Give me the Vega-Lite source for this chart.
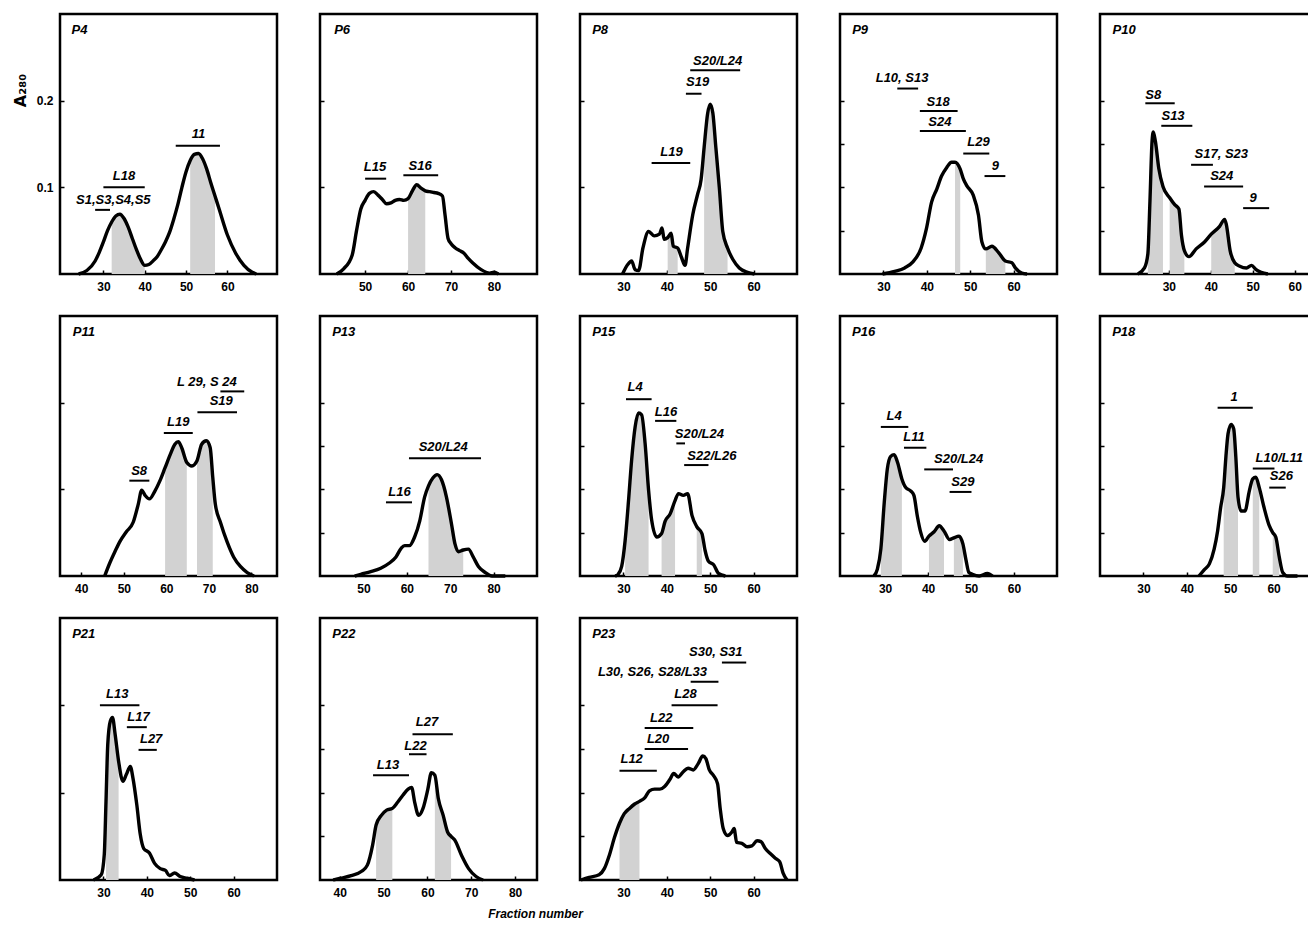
{
"$schema":"https://vega.github.io/schema/vega-lite/v6.json",
"padding":{"left":10,"top":12,"right":0,"bottom":0},
"background":"white",
"datasets":{
"curves":[
{"panel":"P4","x":24,"y":0},{"panel":"P4","x":26,"y":0.004},{"panel":"P4","x":28,"y":0.015},{"panel":"P4","x":29,"y":0.025},{"panel":"P4","x":30,"y":0.037},{"panel":"P4","x":31,"y":0.05},{"panel":"P4","x":32,"y":0.06},{"panel":"P4","x":33,"y":0.067},{"panel":"P4","x":34,"y":0.069},{"panel":"P4","x":35,"y":0.064},{"panel":"P4","x":36,"y":0.054},{"panel":"P4","x":37,"y":0.041},{"panel":"P4","x":38,"y":0.028},{"panel":"P4","x":39,"y":0.017},{"panel":"P4","x":40,"y":0.01},{"panel":"P4","x":41,"y":0.011},{"panel":"P4","x":42,"y":0.015},{"panel":"P4","x":43,"y":0.02},{"panel":"P4","x":44,"y":0.028},{"panel":"P4","x":45,"y":0.037},{"panel":"P4","x":46,"y":0.048},{"panel":"P4","x":47,"y":0.063},{"panel":"P4","x":48,"y":0.08},{"panel":"P4","x":49,"y":0.1},{"panel":"P4","x":50,"y":0.118},{"panel":"P4","x":51,"y":0.131},{"panel":"P4","x":52,"y":0.138},{"panel":"P4","x":53,"y":0.139},{"panel":"P4","x":54,"y":0.133},{"panel":"P4","x":55,"y":0.121},{"panel":"P4","x":56,"y":0.105},{"panel":"P4","x":57,"y":0.09},{"panel":"P4","x":58,"y":0.075},{"panel":"P4","x":60,"y":0.045},{"panel":"P4","x":62,"y":0.024},{"panel":"P4","x":64,"y":0.01},{"panel":"P4","x":66,"y":0.002},{"panel":"P4","x":67,"y":0},
{"panel":"P6","x":43.4,"y":0},{"panel":"P6","x":45,"y":0.006},{"panel":"P6","x":47,"y":0.022},{"panel":"P6","x":48,"y":0.05},{"panel":"P6","x":49,"y":0.075},{"panel":"P6","x":50,"y":0.085},{"panel":"P6","x":51,"y":0.093},{"panel":"P6","x":52,"y":0.095},{"panel":"P6","x":53,"y":0.091},{"panel":"P6","x":54,"y":0.086},{"panel":"P6","x":55,"y":0.081},{"panel":"P6","x":56,"y":0.082},{"panel":"P6","x":57,"y":0.085},{"panel":"P6","x":58,"y":0.086},{"panel":"P6","x":59,"y":0.085},{"panel":"P6","x":60,"y":0.087},{"panel":"P6","x":61,"y":0.096},{"panel":"P6","x":62,"y":0.103},{"panel":"P6","x":63,"y":0.099},{"panel":"P6","x":64,"y":0.096},{"panel":"P6","x":65,"y":0.095},{"panel":"P6","x":66,"y":0.094},{"panel":"P6","x":67,"y":0.093},{"panel":"P6","x":68,"y":0.09},{"panel":"P6","x":68.6,"y":0.068},{"panel":"P6","x":69.3,"y":0.041},{"panel":"P6","x":70,"y":0.035},{"panel":"P6","x":71,"y":0.03},{"panel":"P6","x":72,"y":0.027},{"panel":"P6","x":73,"y":0.024},{"panel":"P6","x":74,"y":0.018},{"panel":"P6","x":75,"y":0.013},{"panel":"P6","x":77,"y":0.005},{"panel":"P6","x":79,"y":0.001},{"panel":"P6","x":80,"y":0.002},{"panel":"P6","x":81,"y":0},
{"panel":"P8","x":29.8,"y":0},{"panel":"P8","x":31,"y":0.011},{"panel":"P8","x":31.9,"y":0.015},{"panel":"P8","x":32.7,"y":0.005},{"panel":"P8","x":33.5,"y":0.004},{"panel":"P8","x":34.5,"y":0.03},{"panel":"P8","x":35.8,"y":0.049},{"panel":"P8","x":37.1,"y":0.044},{"panel":"P8","x":38.3,"y":0.046},{"panel":"P8","x":38.9,"y":0.053},{"panel":"P8","x":39.4,"y":0.04},{"panel":"P8","x":40.2,"y":0.042},{"panel":"P8","x":41,"y":0.047},{"panel":"P8","x":41.5,"y":0.032},{"panel":"P8","x":42.5,"y":0.03},{"panel":"P8","x":43.4,"y":0.019},{"panel":"P8","x":44.2,"y":0.01},{"panel":"P8","x":44.8,"y":0.03},{"panel":"P8","x":46,"y":0.069},{"panel":"P8","x":47.1,"y":0.092},{"panel":"P8","x":47.9,"y":0.109},{"panel":"P8","x":48.6,"y":0.146},{"panel":"P8","x":49.4,"y":0.185},{"panel":"P8","x":50,"y":0.196},{"panel":"P8","x":50.6,"y":0.186},{"panel":"P8","x":51.3,"y":0.146},{"panel":"P8","x":52.1,"y":0.1},{"panel":"P8","x":52.9,"y":0.049},{"panel":"P8","x":54,"y":0.03},{"panel":"P8","x":55.2,"y":0.017},{"panel":"P8","x":56.7,"y":0.007},{"panel":"P8","x":58.6,"y":0.002},{"panel":"P8","x":60.2,"y":0},
{"panel":"P9","x":29.8,"y":0},{"panel":"P9","x":32.6,"y":0.003},{"panel":"P9","x":34.9,"y":0.007},{"panel":"P9","x":36.8,"y":0.014},{"panel":"P9","x":38.7,"y":0.03},{"panel":"P9","x":39.9,"y":0.052},{"panel":"P9","x":41.1,"y":0.083},{"panel":"P9","x":42.3,"y":0.098},{"panel":"P9","x":43.4,"y":0.113},{"panel":"P9","x":44.6,"y":0.123},{"panel":"P9","x":45.7,"y":0.129},{"panel":"P9","x":46.5,"y":0.129},{"panel":"P9","x":47.7,"y":0.121},{"panel":"P9","x":48.4,"y":0.11},{"panel":"P9","x":49.2,"y":0.102},{"panel":"P9","x":50.7,"y":0.091},{"panel":"P9","x":51.9,"y":0.068},{"panel":"P9","x":52.7,"y":0.037},{"panel":"P9","x":53.6,"y":0.029},{"panel":"P9","x":55,"y":0.032},{"panel":"P9","x":56.5,"y":0.025},{"panel":"P9","x":58.1,"y":0.015},{"panel":"P9","x":59.6,"y":0.013},{"panel":"P9","x":60.4,"y":0.007},{"panel":"P9","x":61.9,"y":0.001},{"panel":"P9","x":63.1,"y":0},
{"panel":"P10","x":22.6,"y":0},{"panel":"P10","x":24.2,"y":0.007},{"panel":"P10","x":25,"y":0.023},{"panel":"P10","x":25.5,"y":0.084},{"panel":"P10","x":26,"y":0.153},{"panel":"P10","x":26.3,"y":0.164},{"panel":"P10","x":26.8,"y":0.153},{"panel":"P10","x":27.6,"y":0.122},{"panel":"P10","x":28.6,"y":0.101},{"panel":"P10","x":30.2,"y":0.088},{"panel":"P10","x":31.4,"y":0.08},{"panel":"P10","x":32.4,"y":0.075},{"panel":"P10","x":33,"y":0.045},{"panel":"P10","x":33.7,"y":0.027},{"panel":"P10","x":34.8,"y":0.02},{"panel":"P10","x":36.5,"y":0.029},{"panel":"P10","x":38.5,"y":0.037},{"panel":"P10","x":40.1,"y":0.046},{"panel":"P10","x":42.1,"y":0.055},{"panel":"P10","x":43.3,"y":0.063},{"panel":"P10","x":43.7,"y":0.057},{"panel":"P10","x":44.6,"y":0.027},{"panel":"P10","x":45.7,"y":0.013},{"panel":"P10","x":46.9,"y":0.009},{"panel":"P10","x":48.5,"y":0.007},{"panel":"P10","x":49.7,"y":0.01},{"panel":"P10","x":50.8,"y":0.005},{"panel":"P10","x":52,"y":0.002},{"panel":"P10","x":53.6,"y":0},
{"panel":"P11","x":45.5,"y":0},{"panel":"P11","x":46.7,"y":0.015},{"panel":"P11","x":47.9,"y":0.028},{"panel":"P11","x":49.1,"y":0.04},{"panel":"P11","x":50.6,"y":0.051},{"panel":"P11","x":52.2,"y":0.062},{"panel":"P11","x":53.4,"y":0.083},{"panel":"P11","x":54.2,"y":0.099},{"panel":"P11","x":55,"y":0.093},{"panel":"P11","x":56,"y":0.089},{"panel":"P11","x":57.3,"y":0.098},{"panel":"P11","x":58.5,"y":0.11},{"panel":"P11","x":59.7,"y":0.125},{"panel":"P11","x":60.9,"y":0.14},{"panel":"P11","x":62,"y":0.152},{"panel":"P11","x":62.8,"y":0.155},{"panel":"P11","x":63.6,"y":0.148},{"panel":"P11","x":64.8,"y":0.131},{"panel":"P11","x":66,"y":0.127},{"panel":"P11","x":67.2,"y":0.133},{"panel":"P11","x":68.3,"y":0.152},{"panel":"P11","x":69.4,"y":0.156},{"panel":"P11","x":70.3,"y":0.148},{"panel":"P11","x":70.9,"y":0.114},{"panel":"P11","x":71.5,"y":0.083},{"panel":"P11","x":72.7,"y":0.062},{"panel":"P11","x":74.3,"y":0.039},{"panel":"P11","x":75.8,"y":0.022},{"panel":"P11","x":77.4,"y":0.011},{"panel":"P11","x":79,"y":0.004},{"panel":"P11","x":80.6,"y":0},
{"panel":"P13","x":48,"y":0},{"panel":"P13","x":49.4,"y":0.002},{"panel":"P13","x":51.7,"y":0.005},{"panel":"P13","x":54,"y":0.009},{"panel":"P13","x":56,"y":0.015},{"panel":"P13","x":57.5,"y":0.022},{"panel":"P13","x":58.7,"y":0.032},{"panel":"P13","x":59.5,"y":0.035},{"panel":"P13","x":60.6,"y":0.035},{"panel":"P13","x":61.8,"y":0.045},{"panel":"P13","x":63,"y":0.064},{"panel":"P13","x":64.1,"y":0.091},{"panel":"P13","x":65,"y":0.104},{"panel":"P13","x":66,"y":0.113},{"panel":"P13","x":67,"y":0.117},{"panel":"P13","x":68,"y":0.111},{"panel":"P13","x":69.1,"y":0.092},{"panel":"P13","x":70.3,"y":0.06},{"panel":"P13","x":71.1,"y":0.037},{"panel":"P13","x":71.9,"y":0.028},{"panel":"P13","x":73,"y":0.03},{"panel":"P13","x":74.2,"y":0.031},{"panel":"P13","x":75.3,"y":0.022},{"panel":"P13","x":76.5,"y":0.011},{"panel":"P13","x":78.1,"y":0.004},{"panel":"P13","x":79.6,"y":0},{"panel":"P13","x":82.7,"y":0},
{"panel":"P15","x":28.1,"y":0},{"panel":"P15","x":28.8,"y":0.002},{"panel":"P15","x":29.6,"y":0.011},{"panel":"P15","x":30.4,"y":0.041},{"panel":"P15","x":31.2,"y":0.088},{"panel":"P15","x":31.9,"y":0.134},{"panel":"P15","x":32.7,"y":0.172},{"panel":"P15","x":33.5,"y":0.188},{"panel":"P15","x":34.2,"y":0.186},{"panel":"P15","x":35,"y":0.153},{"panel":"P15","x":35.8,"y":0.099},{"panel":"P15","x":36.5,"y":0.065},{"panel":"P15","x":37.7,"y":0.045},{"panel":"P15","x":38.8,"y":0.049},{"panel":"P15","x":39.6,"y":0.063},{"panel":"P15","x":40.8,"y":0.072},{"panel":"P15","x":41.9,"y":0.087},{"panel":"P15","x":42.7,"y":0.095},{"panel":"P15","x":43.8,"y":0.093},{"panel":"P15","x":44.8,"y":0.095},{"panel":"P15","x":45.8,"y":0.07},{"panel":"P15","x":46.9,"y":0.057},{"panel":"P15","x":48.1,"y":0.049},{"panel":"P15","x":48.8,"y":0.03},{"panel":"P15","x":49.6,"y":0.017},{"panel":"P15","x":50.8,"y":0.013},{"panel":"P15","x":51.9,"y":0.003},{"panel":"P15","x":53.5,"y":0},
{"panel":"P16","x":27.4,"y":0},{"panel":"P16","x":28.2,"y":0.008},{"panel":"P16","x":29,"y":0.031},{"panel":"P16","x":29.8,"y":0.085},{"panel":"P16","x":30.5,"y":0.123},{"panel":"P16","x":31.3,"y":0.138},{"panel":"P16","x":32.1,"y":0.14},{"panel":"P16","x":32.9,"y":0.131},{"panel":"P16","x":33.9,"y":0.112},{"panel":"P16","x":34.8,"y":0.102},{"panel":"P16","x":36,"y":0.098},{"panel":"P16","x":36.7,"y":0.093},{"panel":"P16","x":37.5,"y":0.069},{"panel":"P16","x":38.3,"y":0.05},{"panel":"P16","x":39.2,"y":0.04},{"panel":"P16","x":40.2,"y":0.046},{"panel":"P16","x":41.4,"y":0.051},{"panel":"P16","x":42.6,"y":0.058},{"panel":"P16","x":43.7,"y":0.052},{"panel":"P16","x":45,"y":0.042},{"panel":"P16","x":46,"y":0.044},{"panel":"P16","x":47.2,"y":0.046},{"panel":"P16","x":48.1,"y":0.037},{"panel":"P16","x":48.8,"y":0.019},{"panel":"P16","x":49.5,"y":0.004},{"panel":"P16","x":50.3,"y":0.002},{"panel":"P16","x":51.9,"y":0},{"panel":"P16","x":53.8,"y":0.003},{"panel":"P16","x":55,"y":0},
{"panel":"P18","x":42.8,"y":0},{"panel":"P18","x":44,"y":0.007},{"panel":"P18","x":45.2,"y":0.014},{"panel":"P18","x":46.3,"y":0.031},{"panel":"P18","x":47.1,"y":0.052},{"panel":"P18","x":47.8,"y":0.079},{"panel":"P18","x":48.5,"y":0.102},{"panel":"P18","x":49,"y":0.137},{"panel":"P18","x":49.5,"y":0.164},{"panel":"P18","x":50.2,"y":0.175},{"panel":"P18","x":50.8,"y":0.17},{"panel":"P18","x":51.3,"y":0.137},{"panel":"P18","x":51.8,"y":0.091},{"panel":"P18","x":52.5,"y":0.075},{"panel":"P18","x":53.4,"y":0.075},{"panel":"P18","x":54.4,"y":0.098},{"panel":"P18","x":55.2,"y":0.112},{"panel":"P18","x":55.9,"y":0.114},{"panel":"P18","x":56.7,"y":0.102},{"panel":"P18","x":57.8,"y":0.079},{"panel":"P18","x":59,"y":0.058},{"panel":"P18","x":59.8,"y":0.05},{"panel":"P18","x":60.5,"y":0.045},{"panel":"P18","x":61.3,"y":0.022},{"panel":"P18","x":62.1,"y":0.004},{"panel":"P18","x":63.2,"y":0},{"panel":"P18","x":65.5,"y":0},
{"panel":"P21","x":27.7,"y":0},{"panel":"P21","x":29.5,"y":0.006},{"panel":"P21","x":30.2,"y":0.029},{"panel":"P21","x":30.6,"y":0.09},{"panel":"P21","x":31,"y":0.155},{"panel":"P21","x":31.6,"y":0.182},{"panel":"P21","x":32.1,"y":0.186},{"panel":"P21","x":32.7,"y":0.167},{"panel":"P21","x":33.5,"y":0.136},{"panel":"P21","x":34.5,"y":0.113},{"panel":"P21","x":35.3,"y":0.121},{"panel":"P21","x":36.2,"y":0.13},{"panel":"P21","x":36.8,"y":0.117},{"panel":"P21","x":37.7,"y":0.086},{"panel":"P21","x":38.5,"y":0.052},{"panel":"P21","x":39.3,"y":0.036},{"panel":"P21","x":40.6,"y":0.031},{"panel":"P21","x":41.8,"y":0.019},{"panel":"P21","x":43.1,"y":0.013},{"panel":"P21","x":44.3,"y":0.011},{"panel":"P21","x":45.2,"y":0.005},{"panel":"P21","x":46.4,"y":0.008},{"panel":"P21","x":47.7,"y":0.004},{"panel":"P21","x":49.3,"y":0.002},{"panel":"P21","x":51,"y":0},
{"panel":"P22","x":38.5,"y":0},{"panel":"P22","x":40.2,"y":0.002},{"panel":"P22","x":42.6,"y":0.005},{"panel":"P22","x":45,"y":0.01},{"panel":"P22","x":46.3,"y":0.017},{"panel":"P22","x":47.5,"y":0.04},{"panel":"P22","x":48.3,"y":0.063},{"panel":"P22","x":49.5,"y":0.074},{"panel":"P22","x":50.7,"y":0.08},{"panel":"P22","x":52,"y":0.082},{"panel":"P22","x":53.2,"y":0.089},{"panel":"P22","x":54.4,"y":0.097},{"panel":"P22","x":55.6,"y":0.104},{"panel":"P22","x":56.4,"y":0.106},{"panel":"P22","x":57.1,"y":0.089},{"panel":"P22","x":58,"y":0.074},{"panel":"P22","x":59,"y":0.082},{"panel":"P22","x":60.1,"y":0.104},{"panel":"P22","x":60.9,"y":0.123},{"panel":"P22","x":61.7,"y":0.12},{"panel":"P22","x":62.5,"y":0.093},{"panel":"P22","x":63.6,"y":0.074},{"panel":"P22","x":64.6,"y":0.055},{"panel":"P22","x":65.4,"y":0.05},{"panel":"P22","x":66.2,"y":0.046},{"panel":"P22","x":67.8,"y":0.028},{"panel":"P22","x":69.4,"y":0.013},{"panel":"P22","x":71.1,"y":0.004},{"panel":"P22","x":72.7,"y":0},
{"panel":"P23","x":20.2,"y":0},{"panel":"P23","x":22.1,"y":0.003},{"panel":"P23","x":24.4,"y":0.006},{"panel":"P23","x":25.6,"y":0.013},{"panel":"P23","x":26.8,"y":0.029},{"panel":"P23","x":27.9,"y":0.048},{"panel":"P23","x":29.1,"y":0.065},{"panel":"P23","x":30.2,"y":0.076},{"panel":"P23","x":31.4,"y":0.082},{"panel":"P23","x":32.6,"y":0.087},{"panel":"P23","x":33.7,"y":0.09},{"panel":"P23","x":34.9,"y":0.094},{"panel":"P23","x":36,"y":0.102},{"panel":"P23","x":37.2,"y":0.104},{"panel":"P23","x":38.4,"y":0.104},{"panel":"P23","x":39.5,"y":0.107},{"panel":"P23","x":40.7,"y":0.115},{"panel":"P23","x":41.6,"y":0.122},{"panel":"P23","x":42.6,"y":0.118},{"panel":"P23","x":43.8,"y":0.124},{"panel":"P23","x":44.9,"y":0.128},{"panel":"P23","x":46.1,"y":0.126},{"panel":"P23","x":47.2,"y":0.133},{"panel":"P23","x":48.3,"y":0.142},{"panel":"P23","x":49,"y":0.139},{"panel":"P23","x":49.8,"y":0.126},{"panel":"P23","x":50.7,"y":0.12},{"panel":"P23","x":51.7,"y":0.11},{"panel":"P23","x":52.3,"y":0.082},{"panel":"P23","x":53,"y":0.059},{"panel":"P23","x":54,"y":0.051},{"panel":"P23","x":55,"y":0.055},{"panel":"P23","x":55.5,"y":0.059},{"panel":"P23","x":56.1,"y":0.043},{"panel":"P23","x":57.3,"y":0.042},{"panel":"P23","x":58.5,"y":0.038},{"panel":"P23","x":59.6,"y":0.039},{"panel":"P23","x":60.8,"y":0.045},{"panel":"P23","x":61.7,"y":0.044},{"panel":"P23","x":62.7,"y":0.036},{"panel":"P23","x":63.9,"y":0.03},{"panel":"P23","x":65,"y":0.025},{"panel":"P23","x":66,"y":0.021},{"panel":"P23","x":66.8,"y":0.008},{"panel":"P23","x":67.7,"y":0}
],
"bars":[
{"panel":"P4","x":47.5,"x2":58.2,"y":0.148},{"panel":"P4","x":30,"x2":40,"y":0.1},{"panel":"P4","x":28,"x2":31.6,"y":0.074},
{"panel":"P6","x":50,"x2":54.9,"y":0.11},{"panel":"P6","x":58.9,"x2":67,"y":0.114},
{"panel":"P8","x":45.4,"x2":56.9,"y":0.235},{"panel":"P8","x":44.4,"x2":48,"y":0.208},{"panel":"P8","x":36.5,"x2":45.4,"y":0.128},
{"panel":"P9","x":33.2,"x2":38,"y":0.214},{"panel":"P9","x":38.4,"x2":47.1,"y":0.188},{"panel":"P9","x":38.4,"x2":49,"y":0.165},{"panel":"P9","x":48.4,"x2":54.4,"y":0.139},{"panel":"P9","x":53.3,"x2":58.1,"y":0.113},
{"panel":"P10","x":24.4,"x2":31.4,"y":0.197},{"panel":"P10","x":28.2,"x2":35.6,"y":0.171},{"panel":"P10","x":35.3,"x2":40.5,"y":0.126},{"panel":"P10","x":38.4,"x2":47.7,"y":0.101},{"panel":"P10","x":47.7,"x2":53.9,"y":0.076},
{"panel":"P11","x":51.3,"x2":56,"y":0.11},{"panel":"P11","x":59.4,"x2":66.2,"y":0.165},{"panel":"P11","x":67.3,"x2":76.6,"y":0.189},{"panel":"P11","x":72.7,"x2":78.3,"y":0.213},
{"panel":"P13","x":60.5,"x2":77.1,"y":0.136},{"panel":"P13","x":55.2,"x2":61.2,"y":0.085},
{"panel":"P15","x":30.6,"x2":36.5,"y":0.204},{"panel":"P15","x":37.3,"x2":42.2,"y":0.179},{"panel":"P15","x":42.2,"x2":44.2,"y":0.153},{"panel":"P15","x":44,"x2":49.6,"y":0.128},
{"panel":"P16","x":29,"x2":35.4,"y":0.172},{"panel":"P16","x":34.4,"x2":39.6,"y":0.148},{"panel":"P16","x":39.1,"x2":45.8,"y":0.123},{"panel":"P16","x":45,"x2":50.1,"y":0.097},
{"panel":"P18","x":47.1,"x2":55.2,"y":0.194},{"panel":"P18","x":55.2,"x2":60.2,"y":0.124},{"panel":"P18","x":59,"x2":62.8,"y":0.102},
{"panel":"P21","x":29.2,"x2":38.3,"y":0.2},{"panel":"P21","x":35.4,"x2":40,"y":0.175},{"panel":"P21","x":38.1,"x2":42.3,"y":0.149},
{"panel":"P22","x":47.6,"x2":55.8,"y":0.12},{"panel":"P22","x":55.8,"x2":59.8,"y":0.144},{"panel":"P22","x":56.6,"x2":65.8,"y":0.167},
{"panel":"P23","x":29.1,"x2":37.7,"y":0.125},{"panel":"P23","x":34.9,"x2":44.9,"y":0.15},{"panel":"P23","x":34.9,"x2":46.1,"y":0.174},{"panel":"P23","x":41.1,"x2":51.7,"y":0.2},{"panel":"P23","x":45.5,"x2":51.9,"y":0.227},{"panel":"P23","x":52.7,"x2":58.3,"y":0.249}
],
"labels":[
{"panel":"P4","text":"11","x":53,"y":0.161},{"panel":"P4","text":"L18","x":35,"y":0.113},{"panel":"P4","text":"S1,S3,S4,S5","x":32.4,"y":0.085},
{"panel":"P6","text":"L15","x":52.3,"y":0.123},{"panel":"P6","text":"S16","x":62.8,"y":0.125},
{"panel":"P8","text":"S20/L24","x":51.7,"y":0.246},{"panel":"P8","text":"S19","x":47.1,"y":0.222},{"panel":"P8","text":"L19","x":41.1,"y":0.141},
{"panel":"P9","text":"L10, S13","x":34.3,"y":0.226},{"panel":"P9","text":"S18","x":42.6,"y":0.199},{"panel":"P9","text":"S24","x":43,"y":0.175},{"panel":"P9","text":"L29","x":51.9,"y":0.152},{"panel":"P9","text":"9","x":55.8,"y":0.125},
{"panel":"P10","text":"S8","x":26.3,"y":0.206},{"panel":"P10","text":"S13","x":31,"y":0.182},{"panel":"P10","text":"S17, S23","x":42.5,"y":0.138},{"panel":"P10","text":"S24","x":42.6,"y":0.113},{"panel":"P10","text":"9","x":50.1,"y":0.088},
{"panel":"P11","text":"S8","x":53.6,"y":0.121},{"panel":"P11","text":"L19","x":62.8,"y":0.178},{"panel":"P11","text":"S19","x":72.9,"y":0.202},{"panel":"P11","text":"L 29, S 24","x":69.5,"y":0.224},
{"panel":"P13","text":"S20/L24","x":68.4,"y":0.149},{"panel":"P13","text":"L16","x":58.3,"y":0.097},
{"panel":"P15","text":"L4","x":32.7,"y":0.218},{"panel":"P15","text":"L16","x":39.8,"y":0.189},{"panel":"P15","text":"S20/L24","x":47.5,"y":0.164},{"panel":"P15","text":"S22/L26","x":50.4,"y":0.139},
{"panel":"P16","text":"L4","x":32.1,"y":0.185},{"panel":"P16","text":"L11","x":36.7,"y":0.16},{"panel":"P16","text":"S20/L24","x":47.1,"y":0.135},{"panel":"P16","text":"S29","x":48.1,"y":0.109},
{"panel":"P18","text":"1","x":50.9,"y":0.206},{"panel":"P18","text":"L10/L11","x":61.3,"y":0.136},{"panel":"P18","text":"S26","x":61.8,"y":0.115},
{"panel":"P21","text":"L13","x":33.2,"y":0.213},{"panel":"P21","text":"L17","x":38.1,"y":0.187},{"panel":"P21","text":"L27","x":41,"y":0.162},
{"panel":"P22","text":"L13","x":51,"y":0.132},{"panel":"P22","text":"L22","x":57.3,"y":0.154},{"panel":"P22","text":"L27","x":59.9,"y":0.181},
{"panel":"P23","text":"L12","x":31.9,"y":0.139},{"panel":"P23","text":"L20","x":38,"y":0.162},{"panel":"P23","text":"L22","x":38.7,"y":0.186},{"panel":"P23","text":"L28","x":44.3,"y":0.213},{"panel":"P23","text":"L30, S26, S28/L33","x":36.7,"y":0.238},{"panel":"P23","text":"S30, S31","x":51.3,"y":0.261}
],
"panels":[
{"panel":"P4","x":22.3,"y":0.282},{"panel":"P6","x":42.8,"y":0.282},{"panel":"P8","x":22.8,"y":0.282},{"panel":"P9","x":22.8,"y":0.282},{"panel":"P10","x":16.6,"y":0.282},
{"panel":"P11","x":38,"y":0.282},{"panel":"P13","x":42.8,"y":0.282},{"panel":"P15","x":22.8,"y":0.282},{"panel":"P16","x":22.3,"y":0.282},{"panel":"P18","x":22.8,"y":0.282},
{"panel":"P21","x":22.8,"y":0.282},{"panel":"P22","x":38.3,"y":0.282},{"panel":"P23","x":22.8,"y":0.282}
]
},
"columns":5,
"spacing":{"row":40,"column":43},
"bounds":"flush",
"align":"all",
"concat":[
{"width":217,"height":260,
 "encoding":{"x":{"field":"x","type":"quantitative","scale":{"domain":[19.5,72],"nice":false,"zero":false},"axis":{"values":[30,40,50,60],"title":null}},
  "y":{"field":"y","type":"quantitative","scale":{"domain":[0,0.3],"nice":false},"axis":{"values":[0.1,0.2],"format":".1f","labels":true,"title":"A₂₈₀","titleFont":"DejaVu Sans","titleFontSize":16,"titleFontWeight":"bold","titleAngle":-90,"titleX":-32,"titleY":76,"titleAlign":"center","titleBaseline":"bottom"}}},
 "layer":[
  {"data":{"name":"curves"},"transform":[{"filter":"datum.panel=='P4'&&datum.x>=32&&datum.x<=40"}],"mark":{"type":"area","fill":"#d2d2d2","interpolate":"monotone"},"encoding":{}},
  {"data":{"name":"curves"},"transform":[{"filter":"datum.panel=='P4'&&datum.x>=51&&datum.x<=57"}],"mark":{"type":"area","fill":"#d2d2d2","interpolate":"monotone"},"encoding":{}},
  {"data":{"name":"curves"},"transform":[{"filter":"datum.panel=='P4'"}],"mark":{"type":"line","color":"black","strokeWidth":3.4,"interpolate":"monotone","strokeJoin":"round"},"encoding":{}},
  {"data":{"name":"bars"},"transform":[{"filter":"datum.panel=='P4'"}],"mark":{"type":"rule","color":"black","strokeWidth":2},"encoding":{"x2":{"field":"x2"}}},
  {"data":{"name":"labels"},"transform":[{"filter":"datum.panel=='P4'"}],"mark":{"type":"text","baseline":"middle"},"encoding":{"text":{"field":"text"}}},
  {"data":{"name":"panels"},"transform":[{"filter":"datum.panel=='P4'"}],"mark":{"type":"text","align":"left","baseline":"middle"},"encoding":{"text":{"field":"panel"}}}
 ]},
{"width":217,"height":260,
 "encoding":{"x":{"field":"x","type":"quantitative","scale":{"domain":[39.5,90],"nice":false,"zero":false},"axis":{"values":[50,60,70,80],"title":null}},
  "y":{"field":"y","type":"quantitative","scale":{"domain":[0,0.3],"nice":false},"axis":{"values":[0.1,0.2],"title":null}}},
 "layer":[
  {"data":{"name":"curves"},"transform":[{"filter":"datum.panel=='P6'&&datum.x>=60&&datum.x<=64"}],"mark":{"type":"area","fill":"#d2d2d2","interpolate":"monotone"},"encoding":{}},
  {"data":{"name":"curves"},"transform":[{"filter":"datum.panel=='P6'"}],"mark":{"type":"line","color":"black","strokeWidth":3.4,"interpolate":"monotone","strokeJoin":"round"},"encoding":{}},
  {"data":{"name":"bars"},"transform":[{"filter":"datum.panel=='P6'"}],"mark":{"type":"rule","color":"black","strokeWidth":2},"encoding":{"x2":{"field":"x2"}}},
  {"data":{"name":"labels"},"transform":[{"filter":"datum.panel=='P6'"}],"mark":{"type":"text","baseline":"middle"},"encoding":{"text":{"field":"text"}}},
  {"data":{"name":"panels"},"transform":[{"filter":"datum.panel=='P6'"}],"mark":{"type":"text","align":"left","baseline":"middle"},"encoding":{"text":{"field":"panel"}}}
 ]},
{"width":217,"height":260,
 "encoding":{"x":{"field":"x","type":"quantitative","scale":{"domain":[20,70],"nice":false,"zero":false},"axis":{"values":[30,40,50,60],"title":null}},
  "y":{"field":"y","type":"quantitative","scale":{"domain":[0,0.3],"nice":false},"axis":{"values":[0.1,0.2],"title":null}}},
 "layer":[
  {"data":{"name":"curves"},"transform":[{"filter":"datum.panel=='P8'&&datum.x>=40.2&&datum.x<=42.5"}],"mark":{"type":"area","fill":"#d2d2d2","interpolate":"monotone"},"encoding":{}},
  {"data":{"name":"curves"},"transform":[{"filter":"datum.panel=='P8'&&datum.x>=48.6&&datum.x<=54"}],"mark":{"type":"area","fill":"#d2d2d2","interpolate":"monotone"},"encoding":{}},
  {"data":{"name":"curves"},"transform":[{"filter":"datum.panel=='P8'"}],"mark":{"type":"line","color":"black","strokeWidth":3.4,"interpolate":"monotone","strokeJoin":"round"},"encoding":{}},
  {"data":{"name":"bars"},"transform":[{"filter":"datum.panel=='P8'"}],"mark":{"type":"rule","color":"black","strokeWidth":2},"encoding":{"x2":{"field":"x2"}}},
  {"data":{"name":"labels"},"transform":[{"filter":"datum.panel=='P8'"}],"mark":{"type":"text","baseline":"middle"},"encoding":{"text":{"field":"text"}}},
  {"data":{"name":"panels"},"transform":[{"filter":"datum.panel=='P8'"}],"mark":{"type":"text","align":"left","baseline":"middle"},"encoding":{"text":{"field":"panel"}}}
 ]},
{"width":217,"height":260,
 "encoding":{"x":{"field":"x","type":"quantitative","scale":{"domain":[20,70],"nice":false,"zero":false},"axis":{"values":[30,40,50,60],"title":null}},
  "y":{"field":"y","type":"quantitative","scale":{"domain":[0,0.3],"nice":false},"axis":{"values":[0.05,0.1,0.15,0.2],"title":null}}},
 "layer":[
  {"data":{"name":"curves"},"transform":[{"filter":"datum.panel=='P9'&&datum.x>=46.5&&datum.x<=47.7"}],"mark":{"type":"area","fill":"#d2d2d2","interpolate":"monotone"},"encoding":{}},
  {"data":{"name":"curves"},"transform":[{"filter":"datum.panel=='P9'&&datum.x>=53.6&&datum.x<=58.1"}],"mark":{"type":"area","fill":"#d2d2d2","interpolate":"monotone"},"encoding":{}},
  {"data":{"name":"curves"},"transform":[{"filter":"datum.panel=='P9'"}],"mark":{"type":"line","color":"black","strokeWidth":3.4,"interpolate":"monotone","strokeJoin":"round"},"encoding":{}},
  {"data":{"name":"bars"},"transform":[{"filter":"datum.panel=='P9'"}],"mark":{"type":"rule","color":"black","strokeWidth":2},"encoding":{"x2":{"field":"x2"}}},
  {"data":{"name":"labels"},"transform":[{"filter":"datum.panel=='P9'"}],"mark":{"type":"text","baseline":"middle"},"encoding":{"text":{"field":"text"}}},
  {"data":{"name":"panels"},"transform":[{"filter":"datum.panel=='P9'"}],"mark":{"type":"text","align":"left","baseline":"middle"},"encoding":{"text":{"field":"panel"}}}
 ]},
{"width":217,"height":260,
 "encoding":{"x":{"field":"x","type":"quantitative","scale":{"domain":[13.6,65.3],"nice":false,"zero":false},"axis":{"values":[30,40,50,60],"title":null}},
  "y":{"field":"y","type":"quantitative","scale":{"domain":[0,0.3],"nice":false},"axis":{"values":[0.05,0.1,0.15,0.2],"title":null}}},
 "layer":[
  {"data":{"name":"curves"},"transform":[{"filter":"datum.panel=='P10'&&datum.x>=25&&datum.x<=28.6"}],"mark":{"type":"area","fill":"#d2d2d2","interpolate":"monotone"},"encoding":{}},
  {"data":{"name":"curves"},"transform":[{"filter":"datum.panel=='P10'&&datum.x>=30.2&&datum.x<=33.7"}],"mark":{"type":"area","fill":"#d2d2d2","interpolate":"monotone"},"encoding":{}},
  {"data":{"name":"curves"},"transform":[{"filter":"datum.panel=='P10'&&datum.x>=40.1&&datum.x<=45.7"}],"mark":{"type":"area","fill":"#d2d2d2","interpolate":"monotone"},"encoding":{}},
  {"data":{"name":"curves"},"transform":[{"filter":"datum.panel=='P10'"}],"mark":{"type":"line","color":"black","strokeWidth":3.4,"interpolate":"monotone","strokeJoin":"round"},"encoding":{}},
  {"data":{"name":"bars"},"transform":[{"filter":"datum.panel=='P10'"}],"mark":{"type":"rule","color":"black","strokeWidth":2},"encoding":{"x2":{"field":"x2"}}},
  {"data":{"name":"labels"},"transform":[{"filter":"datum.panel=='P10'"}],"mark":{"type":"text","baseline":"middle"},"encoding":{"text":{"field":"text"}}},
  {"data":{"name":"panels"},"transform":[{"filter":"datum.panel=='P10'"}],"mark":{"type":"text","align":"left","baseline":"middle"},"encoding":{"text":{"field":"panel"}}}
 ]},
{"width":217,"height":260,
 "encoding":{"x":{"field":"x","type":"quantitative","scale":{"domain":[35,86],"nice":false,"zero":false},"axis":{"values":[40,50,60,70,80],"title":null}},
  "y":{"field":"y","type":"quantitative","scale":{"domain":[0,0.3],"nice":false},"axis":{"values":[0.1,0.2],"title":null}}},
 "layer":[
  {"data":{"name":"curves"},"transform":[{"filter":"datum.panel=='P11'&&datum.x>=59.7&&datum.x<=64.8"}],"mark":{"type":"area","fill":"#d2d2d2","interpolate":"monotone"},"encoding":{}},
  {"data":{"name":"curves"},"transform":[{"filter":"datum.panel=='P11'&&datum.x>=67.2&&datum.x<=70.9"}],"mark":{"type":"area","fill":"#d2d2d2","interpolate":"monotone"},"encoding":{}},
  {"data":{"name":"curves"},"transform":[{"filter":"datum.panel=='P11'"}],"mark":{"type":"line","color":"black","strokeWidth":3.4,"interpolate":"monotone","strokeJoin":"round"},"encoding":{}},
  {"data":{"name":"bars"},"transform":[{"filter":"datum.panel=='P11'"}],"mark":{"type":"rule","color":"black","strokeWidth":2},"encoding":{"x2":{"field":"x2"}}},
  {"data":{"name":"labels"},"transform":[{"filter":"datum.panel=='P11'"}],"mark":{"type":"text","baseline":"middle"},"encoding":{"text":{"field":"text"}}},
  {"data":{"name":"panels"},"transform":[{"filter":"datum.panel=='P11'"}],"mark":{"type":"text","align":"left","baseline":"middle"},"encoding":{"text":{"field":"panel"}}}
 ]},
{"width":217,"height":260,
 "encoding":{"x":{"field":"x","type":"quantitative","scale":{"domain":[40,90],"nice":false,"zero":false},"axis":{"values":[50,60,70,80],"title":null}},
  "y":{"field":"y","type":"quantitative","scale":{"domain":[0,0.3],"nice":false},"axis":{"values":[0.05,0.1,0.15,0.2],"title":null}}},
 "layer":[
  {"data":{"name":"curves"},"transform":[{"filter":"datum.panel=='P13'&&datum.x>=65&&datum.x<=73"}],"mark":{"type":"area","fill":"#d2d2d2","interpolate":"monotone"},"encoding":{}},
  {"data":{"name":"curves"},"transform":[{"filter":"datum.panel=='P13'"}],"mark":{"type":"line","color":"black","strokeWidth":3.4,"interpolate":"monotone","strokeJoin":"round"},"encoding":{}},
  {"data":{"name":"bars"},"transform":[{"filter":"datum.panel=='P13'"}],"mark":{"type":"rule","color":"black","strokeWidth":2},"encoding":{"x2":{"field":"x2"}}},
  {"data":{"name":"labels"},"transform":[{"filter":"datum.panel=='P13'"}],"mark":{"type":"text","baseline":"middle"},"encoding":{"text":{"field":"text"}}},
  {"data":{"name":"panels"},"transform":[{"filter":"datum.panel=='P13'"}],"mark":{"type":"text","align":"left","baseline":"middle"},"encoding":{"text":{"field":"panel"}}}
 ]},
{"width":217,"height":260,
 "encoding":{"x":{"field":"x","type":"quantitative","scale":{"domain":[20,70],"nice":false,"zero":false},"axis":{"values":[30,40,50,60],"title":null}},
  "y":{"field":"y","type":"quantitative","scale":{"domain":[0,0.3],"nice":false},"axis":{"values":[0.05,0.1,0.15,0.2],"title":null}}},
 "layer":[
  {"data":{"name":"curves"},"transform":[{"filter":"datum.panel=='P15'&&datum.x>=30.4&&datum.x<=35.8"}],"mark":{"type":"area","fill":"#d2d2d2","interpolate":"monotone"},"encoding":{}},
  {"data":{"name":"curves"},"transform":[{"filter":"datum.panel=='P15'&&datum.x>=38.8&&datum.x<=41.9"}],"mark":{"type":"area","fill":"#d2d2d2","interpolate":"monotone"},"encoding":{}},
  {"data":{"name":"curves"},"transform":[{"filter":"datum.panel=='P15'&&datum.x>=46.9&&datum.x<=48.1"}],"mark":{"type":"area","fill":"#d2d2d2","interpolate":"monotone"},"encoding":{}},
  {"data":{"name":"curves"},"transform":[{"filter":"datum.panel=='P15'"}],"mark":{"type":"line","color":"black","strokeWidth":3.4,"interpolate":"monotone","strokeJoin":"round"},"encoding":{}},
  {"data":{"name":"bars"},"transform":[{"filter":"datum.panel=='P15'"}],"mark":{"type":"rule","color":"black","strokeWidth":2},"encoding":{"x2":{"field":"x2"}}},
  {"data":{"name":"labels"},"transform":[{"filter":"datum.panel=='P15'"}],"mark":{"type":"text","baseline":"middle"},"encoding":{"text":{"field":"text"}}},
  {"data":{"name":"panels"},"transform":[{"filter":"datum.panel=='P15'"}],"mark":{"type":"text","align":"left","baseline":"middle"},"encoding":{"text":{"field":"panel"}}}
 ]},
{"width":217,"height":260,
 "encoding":{"x":{"field":"x","type":"quantitative","scale":{"domain":[19.5,70],"nice":false,"zero":false},"axis":{"values":[30,40,50,60],"title":null}},
  "y":{"field":"y","type":"quantitative","scale":{"domain":[0,0.3],"nice":false},"axis":{"values":[0.05,0.1,0.15,0.2],"title":null}}},
 "layer":[
  {"data":{"name":"curves"},"transform":[{"filter":"datum.panel=='P16'&&datum.x>=29&&datum.x<=33.9"}],"mark":{"type":"area","fill":"#d2d2d2","interpolate":"monotone"},"encoding":{}},
  {"data":{"name":"curves"},"transform":[{"filter":"datum.panel=='P16'&&datum.x>=40.2&&datum.x<=43.7"}],"mark":{"type":"area","fill":"#d2d2d2","interpolate":"monotone"},"encoding":{}},
  {"data":{"name":"curves"},"transform":[{"filter":"datum.panel=='P16'&&datum.x>=46&&datum.x<=48.1"}],"mark":{"type":"area","fill":"#d2d2d2","interpolate":"monotone"},"encoding":{}},
  {"data":{"name":"curves"},"transform":[{"filter":"datum.panel=='P16'"}],"mark":{"type":"line","color":"black","strokeWidth":3.4,"interpolate":"monotone","strokeJoin":"round"},"encoding":{}},
  {"data":{"name":"bars"},"transform":[{"filter":"datum.panel=='P16'"}],"mark":{"type":"rule","color":"black","strokeWidth":2},"encoding":{"x2":{"field":"x2"}}},
  {"data":{"name":"labels"},"transform":[{"filter":"datum.panel=='P16'"}],"mark":{"type":"text","baseline":"middle"},"encoding":{"text":{"field":"text"}}},
  {"data":{"name":"panels"},"transform":[{"filter":"datum.panel=='P16'"}],"mark":{"type":"text","align":"left","baseline":"middle"},"encoding":{"text":{"field":"panel"}}}
 ]},
{"width":217,"height":260,
 "encoding":{"x":{"field":"x","type":"quantitative","scale":{"domain":[20,70],"nice":false,"zero":false},"axis":{"values":[30,40,50,60],"title":null}},
  "y":{"field":"y","type":"quantitative","scale":{"domain":[0,0.3],"nice":false},"axis":{"values":[0.05,0.1,0.15,0.2],"title":null}}},
 "layer":[
  {"data":{"name":"curves"},"transform":[{"filter":"datum.panel=='P18'&&datum.x>=48.5&&datum.x<=51.8"}],"mark":{"type":"area","fill":"#d2d2d2","interpolate":"monotone"},"encoding":{}},
  {"data":{"name":"curves"},"transform":[{"filter":"datum.panel=='P18'&&datum.x>=55.2&&datum.x<=56.7"}],"mark":{"type":"area","fill":"#d2d2d2","interpolate":"monotone"},"encoding":{}},
  {"data":{"name":"curves"},"transform":[{"filter":"datum.panel=='P18'&&datum.x>=59.8&&datum.x<=61.3"}],"mark":{"type":"area","fill":"#d2d2d2","interpolate":"monotone"},"encoding":{}},
  {"data":{"name":"curves"},"transform":[{"filter":"datum.panel=='P18'"}],"mark":{"type":"line","color":"black","strokeWidth":3.4,"interpolate":"monotone","strokeJoin":"round"},"encoding":{}},
  {"data":{"name":"bars"},"transform":[{"filter":"datum.panel=='P18'"}],"mark":{"type":"rule","color":"black","strokeWidth":2},"encoding":{"x2":{"field":"x2"}}},
  {"data":{"name":"labels"},"transform":[{"filter":"datum.panel=='P18'"}],"mark":{"type":"text","baseline":"middle"},"encoding":{"text":{"field":"text"}}},
  {"data":{"name":"panels"},"transform":[{"filter":"datum.panel=='P18'"}],"mark":{"type":"text","align":"left","baseline":"middle"},"encoding":{"text":{"field":"panel"}}}
 ]},
{"width":217,"height":262,
 "encoding":{"x":{"field":"x","type":"quantitative","scale":{"domain":[20,70],"nice":false,"zero":false},"axis":{"values":[30,40,50,60],"title":null}},
  "y":{"field":"y","type":"quantitative","scale":{"domain":[0,0.3],"nice":false},"axis":{"values":[0.1,0.2],"title":null}}},
 "layer":[
  {"data":{"name":"curves"},"transform":[{"filter":"datum.panel=='P21'&&datum.x>=30.6&&datum.x<=33.5"}],"mark":{"type":"area","fill":"#d2d2d2","interpolate":"monotone"},"encoding":{}},
  {"data":{"name":"curves"},"transform":[{"filter":"datum.panel=='P21'"}],"mark":{"type":"line","color":"black","strokeWidth":3.4,"interpolate":"monotone","strokeJoin":"round"},"encoding":{}},
  {"data":{"name":"bars"},"transform":[{"filter":"datum.panel=='P21'"}],"mark":{"type":"rule","color":"black","strokeWidth":2},"encoding":{"x2":{"field":"x2"}}},
  {"data":{"name":"labels"},"transform":[{"filter":"datum.panel=='P21'"}],"mark":{"type":"text","baseline":"middle"},"encoding":{"text":{"field":"text"}}},
  {"data":{"name":"panels"},"transform":[{"filter":"datum.panel=='P21'"}],"mark":{"type":"text","align":"left","baseline":"middle"},"encoding":{"text":{"field":"panel"}}}
 ]},
{"width":217,"height":262,
 "encoding":{"x":{"field":"x","type":"quantitative","scale":{"domain":[35.5,85],"nice":false,"zero":false},"axis":{"values":[40,50,60,70,80],"title":"Fraction number","titleFont":"Liberation Sans","titleFontSize":12,"titleFontWeight":"bold","titleFontStyle":"italic","titleX":215,"titleY":33,"titleAlign":"center","titleBaseline":"middle"}},
  "y":{"field":"y","type":"quantitative","scale":{"domain":[0,0.3],"nice":false},"axis":{"values":[0.05,0.1,0.15,0.2],"title":null}}},
 "layer":[
  {"data":{"name":"curves"},"transform":[{"filter":"datum.panel=='P22'&&datum.x>=48.3&&datum.x<=52"}],"mark":{"type":"area","fill":"#d2d2d2","interpolate":"monotone"},"encoding":{}},
  {"data":{"name":"curves"},"transform":[{"filter":"datum.panel=='P22'&&datum.x>=61.7&&datum.x<=65.4"}],"mark":{"type":"area","fill":"#d2d2d2","interpolate":"monotone"},"encoding":{}},
  {"data":{"name":"curves"},"transform":[{"filter":"datum.panel=='P22'"}],"mark":{"type":"line","color":"black","strokeWidth":3.4,"interpolate":"monotone","strokeJoin":"round"},"encoding":{}},
  {"data":{"name":"bars"},"transform":[{"filter":"datum.panel=='P22'"}],"mark":{"type":"rule","color":"black","strokeWidth":2},"encoding":{"x2":{"field":"x2"}}},
  {"data":{"name":"labels"},"transform":[{"filter":"datum.panel=='P22'"}],"mark":{"type":"text","baseline":"middle"},"encoding":{"text":{"field":"text"}}},
  {"data":{"name":"panels"},"transform":[{"filter":"datum.panel=='P22'"}],"mark":{"type":"text","align":"left","baseline":"middle"},"encoding":{"text":{"field":"panel"}}}
 ]},
{"width":217,"height":262,
 "encoding":{"x":{"field":"x","type":"quantitative","scale":{"domain":[20,70],"nice":false,"zero":false},"axis":{"values":[30,40,50,60],"title":null}},
  "y":{"field":"y","type":"quantitative","scale":{"domain":[0,0.3],"nice":false},"axis":{"values":[0.05,0.1,0.15,0.2],"title":null}}},
 "layer":[
  {"data":{"name":"curves"},"transform":[{"filter":"datum.panel=='P23'&&datum.x>=29.1&&datum.x<=33.7"}],"mark":{"type":"area","fill":"#d2d2d2","interpolate":"monotone"},"encoding":{}},
  {"data":{"name":"curves"},"transform":[{"filter":"datum.panel=='P23'"}],"mark":{"type":"line","color":"black","strokeWidth":3.4,"interpolate":"monotone","strokeJoin":"round"},"encoding":{}},
  {"data":{"name":"bars"},"transform":[{"filter":"datum.panel=='P23'"}],"mark":{"type":"rule","color":"black","strokeWidth":2},"encoding":{"x2":{"field":"x2"}}},
  {"data":{"name":"labels"},"transform":[{"filter":"datum.panel=='P23'"}],"mark":{"type":"text","baseline":"middle"},"encoding":{"text":{"field":"text"}}},
  {"data":{"name":"panels"},"transform":[{"filter":"datum.panel=='P23'"}],"mark":{"type":"text","align":"left","baseline":"middle"},"encoding":{"text":{"field":"panel"}}}
 ]}
],
"config":{
 "view":{"stroke":"black","strokeWidth":2.5},
 "axis":{"domain":false,"grid":false,"ticks":true,"tickColor":"black","tickWidth":1.5,"tickSize":-4,"labelFont":"Liberation Sans","labelFontWeight":"bold","labelFontSize":12,"labelColor":"black","labelPadding":11,"labelOverlap":false,"labelFlush":false},
 "axisY":{"labels":false},
 "text":{"font":"Liberation Sans","fontSize":13,"fontWeight":"bold","fontStyle":"italic","color":"black"}
}
}
